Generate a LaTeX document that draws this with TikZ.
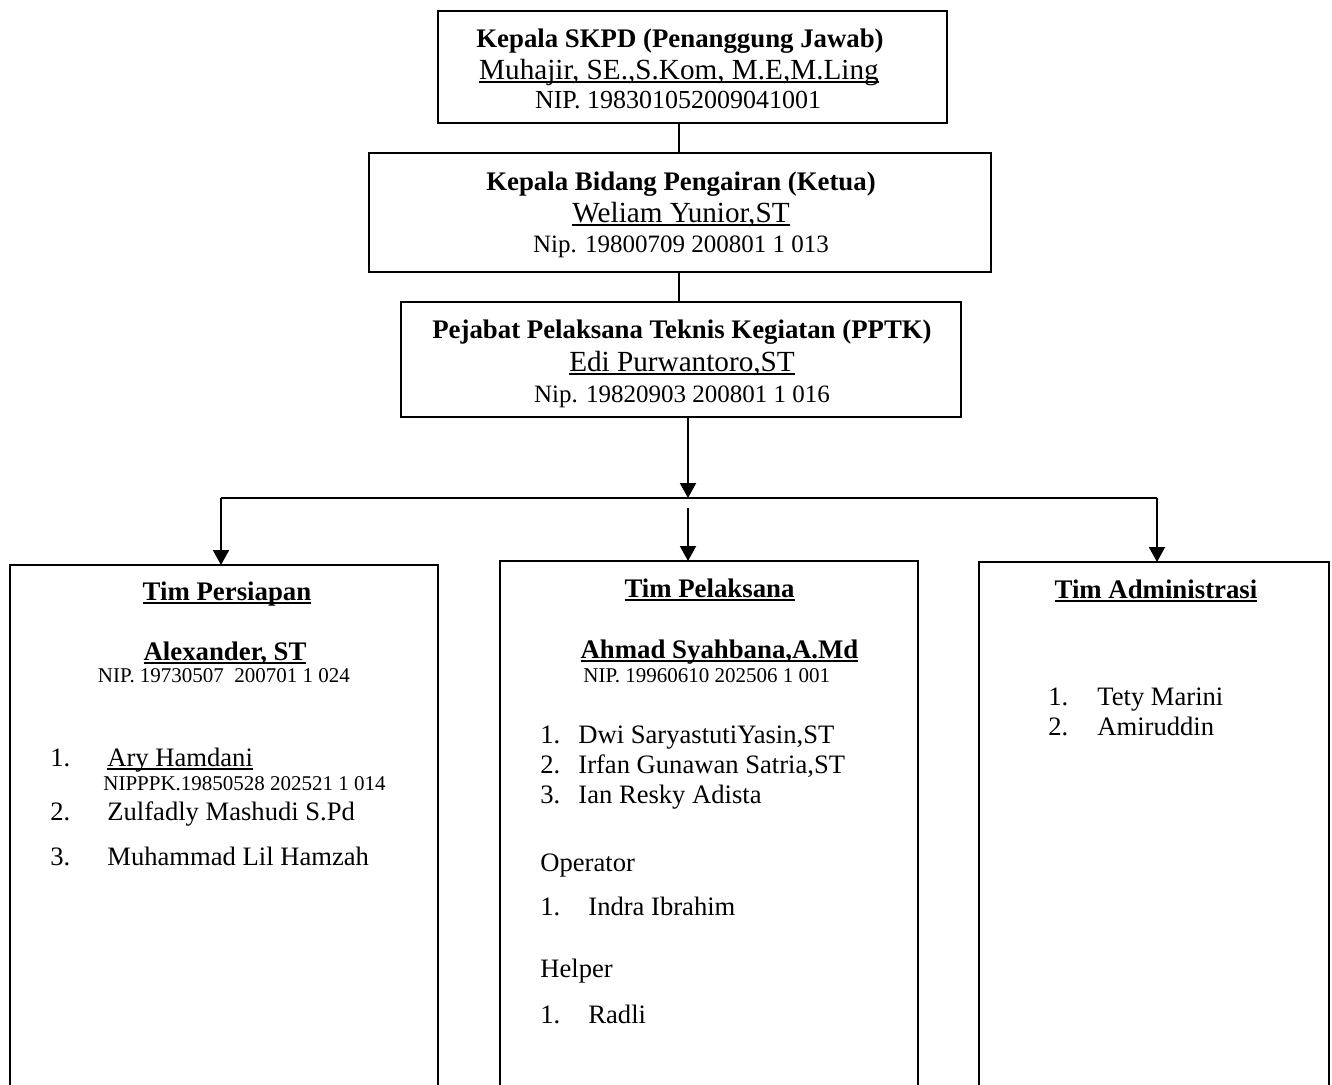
\documentclass[tikz,border=0pt]{standalone}
\usepackage{fontspec}
\setmainfont{Liberation Serif}
\usetikzlibrary{arrows.meta}
\newsavebox\ulbox
\newcommand\myul[1]{\sbox\ulbox{#1}\rlap{\rule[-2pt]{\wd\ulbox}{0.8pt}}\usebox\ulbox}
\begin{document}
\begin{tikzpicture}[x=0.5pt,y=-0.5pt,
  box/.style={draw, line width=1.3pt, inner sep=0pt, outer sep=0pt, anchor=north west},
  conn/.style={line width=1pt},
  arr/.style={conn, -{Triangle[width=8pt,length=7.5pt]}},
  ttl/.style={anchor=base, inner sep=0pt, font=\bfseries\fontsize{13.4}{16}\selectfont},
  nm/.style={anchor=base, inner sep=0pt, font=\fontsize{14.6}{17}\selectfont},
  nip/.style={anchor=base, inner sep=0pt, font=\fontsize{12.5}{15}\selectfont},
  itm/.style={anchor=base west, inner sep=0pt, font=\fontsize{13.3}{16}\selectfont},
  sm/.style={anchor=base, inner sep=0pt, font=\fontsize{10.5}{12}\selectfont},
  smw/.style={anchor=base west, inner sep=0pt, font=\fontsize{10.5}{12}\selectfont}]
\useasboundingbox (0,0) rectangle (1332,1084);
\clip (0,0) rectangle (1332,1084);

% top boxes
\node[box, minimum width=254.5pt, minimum height=56pt] (b1) at (438,11) {};
\node[box, minimum width=311pt, minimum height=59.5pt] (b2) at (369,153) {};
\node[box, minimum width=280pt, minimum height=57.5pt] (b3) at (401,302) {};

\node[ttl] (b1t) at (680,47) {Kepala SKPD (Penanggung Jawab)};
\node[nm] (b1n) at (679,79) {\myul{Muhajir, SE.,S.Kom, M.E,M.Ling}};
\node[nip, font=\fontsize{13}{15}\selectfont] (b1p) at (678,108) {NIP. 198301052009041001};

\node[ttl] (b2t) at (681,190) {Kepala Bidang Pengairan (Ketua)};
\node[nm] (b2n) at (681,222) {\myul{Weliam Yunior,ST}};
\node[nip] (b2p) at (681,252) {Nip. 19800709 200801 1 013};

\node[ttl] (b3t) at (682,338) {Pejabat Pelaksana Teknis Kegiatan (PPTK)};
\node[nm] (b3n) at (682,371) {\myul{Edi Purwantoro,ST}};
\node[nip] (b3p) at (682,402) {Nip. 19820903 200801 1 016};

% bottom boxes
\node[box, minimum width=214pt, minimum height=270pt] (lb) at (10,565) {};
\node[box, minimum width=209pt, minimum height=272pt] (mb) at (500,561) {};
\node[box, minimum width=175pt, minimum height=272pt] (rb) at (979,562) {};

% connectors
\coordinate (c12) at (679,0);
\coordinate (j) at (688,498);
\coordinate (lj) at (221,498);
\coordinate (rj) at (1157,498);
\coordinate (m0) at (688,508);
\draw[conn] (b1.south -| c12) -- (b2.north -| c12);
\draw[conn] (b2.south -| c12) -- (b3.north -| c12);
\draw[arr] (b3.south -| j) -- (j);
\draw[conn] (lj) -- (rj);
\draw[arr] (lj) -- (lb.north -| lj);
\draw[arr] (rj) -- (rb.north -| rj);
\draw[arr] (m0) -- (mb.north -| m0);

% left box text
\node[ttl] (lt) at (227,600) {\myul{Tim Persiapan}};
\node[ttl] (ln) at (225,660) {\myul{Alexander, ST}};
\node[sm] (lp) at (224,682) {NIP. 19730507\ \ 200701 1 024};
\node[itm] (l1) at (50,766) {1.};
\node[itm] (l1n) at (107,766) {\myul{Ary Hamdani}};
\node[smw] (l1p) at (103,790) {NIPPPK.19850528 202521 1 014};
\node[itm] (l2) at (50,820) {2.};
\node[itm] (l2n) at (107,820) {Zulfadly Mashudi S.Pd};
\node[itm] (l3) at (50,865) {3.};
\node[itm] (l3n) at (107,865) {Muhammad Lil Hamzah};

% middle box text
\node[ttl] (mt) at (709.5,597) {\myul{Tim Pelaksana}};
\node[ttl] (mn) at (719.5,658) {\myul{Ahmad Syahbana,A.Md}};
\node[smw] (mp) at (583,682) {NIP. 19960610 202506 1 001};
\node[itm] (m1) at (540,743) {1.};
\node[itm] (m1n) at (578,743) {Dwi SaryastutiYasin,ST};
\node[itm] (m2) at (540,773) {2.};
\node[itm] (m2n) at (578,773) {Irfan Gunawan Satria,ST};
\node[itm] (m3) at (540,803) {3.};
\node[itm] (m3n) at (578,803) {Ian Resky Adista};
\node[itm] (mo) at (540,871) {Operator};
\node[itm] (mo1) at (540,915) {1.};
\node[itm] (mo1n) at (588,915) {Indra Ibrahim};
\node[itm] (mh) at (540,977) {Helper};
\node[itm] (mh1) at (540,1023) {1.};
\node[itm] (mh1n) at (588,1023) {Radli};

% right box text
\node[ttl] (rt) at (1156,598) {\myul{Tim Administrasi}};
\node[itm] (r1) at (1048,705) {1.};
\node[itm] (r1n) at (1097,705) {Tety Marini};
\node[itm] (r2) at (1048,735) {2.};
\node[itm] (r2n) at (1097,735) {Amiruddin};
\end{tikzpicture}
\end{document}
